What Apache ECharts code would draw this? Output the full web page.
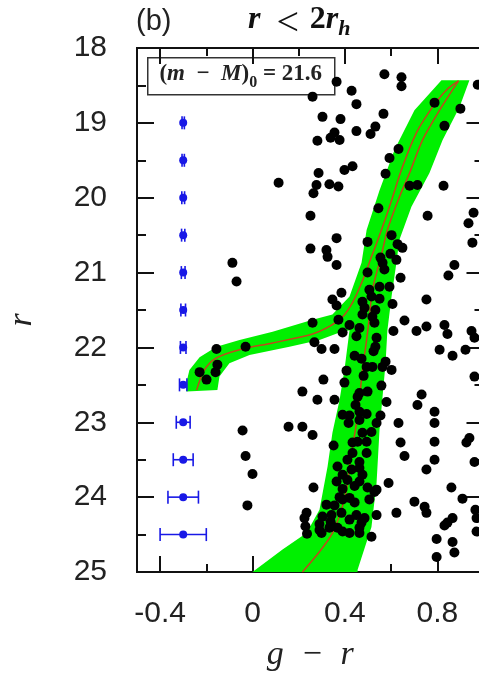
<!DOCTYPE html>
<html>
<head>
<meta charset="utf-8">
<script src="https://cdn.jsdelivr.net/npm/echarts@6/dist/echarts.min.js"></script>
<style>
  html, body { margin: 0; padding: 0; background: #ffffff; }
  #chart { width: 479px; height: 676px; }
</style>
</head>
<body>
<div id="chart"></div>
<script>
// Axis ticks
const xMajorTicks = [-0.4, 0, 0.4, 0.8];
const xMinorTicks = [-0.2, 0.2, 0.6];

// Stars inside r < 2 r_h : [g - r, r]
const stars = [
  [0.364,18.45],[0.429,18.57],[0.260,18.65],[0.450,18.75],[0.571,18.35],[0.645,18.39],[0.645,18.51],
  [0.788,18.73],[0.900,18.81],[0.975,18.49],[0.303,18.92],[0.381,18.95],[0.567,18.88],[0.831,19.04],
  [0.532,19.05],[0.511,19.15],[0.450,19.11],[0.355,19.13],[0.338,19.20],[0.377,19.23],[0.281,19.24],
  [0.632,19.35],[0.593,19.47],[0.433,19.58],[0.398,19.63],[0.286,19.67],[0.576,19.68],[0.113,19.80],
  [0.277,19.83],[0.333,19.82],[0.372,19.85],[0.264,19.94],[0.680,19.84],[0.714,19.83],[0.827,19.84],
  [0.545,20.14],[0.758,20.24],[0.251,20.24],[0.957,20.20],[0.935,20.34],[0.364,20.54],[0.602,20.50],
  [0.498,20.59],[0.251,20.68],[0.320,20.70],[0.325,20.79],[0.364,20.90],[0.628,20.62],[0.649,20.67],
  [0.952,20.60],[0.554,20.80],[0.597,20.75],[0.623,20.83],[0.563,20.87],[0.571,20.96],[0.874,20.90],
  [0.848,21.04],[0.498,21.00],[0.641,21.07],[0.385,21.27],[0.506,21.23],[0.550,21.19],[0.593,21.19],
  [0.346,21.36],[0.364,21.44],[0.476,21.39],[0.515,21.32],[0.550,21.35],[0.606,21.42],[0.753,21.36],
  [0.485,21.47],[0.532,21.50],[0.476,21.56],[0.519,21.59],[0.372,21.63],[0.260,21.67],[0.420,21.70],
  [0.528,21.67],[0.658,21.64],[0.390,21.80],[0.463,21.74],[0.450,21.85],[0.610,21.78],[0.710,21.78],
  [0.753,21.72],[0.831,21.70],[0.844,21.82],[0.948,21.78],[0.961,21.87],[0.268,21.93],[0.537,21.87],
  [0.532,21.99],[0.299,22.02],[0.355,22.02],[0.524,22.05],[0.810,22.03],[0.922,22.03],[0.866,22.11],
  [0.442,22.11],[0.472,22.15],[0.576,22.19],[0.563,22.26],[0.602,22.30],[0.407,22.31],[0.494,22.26],
  [0.519,22.26],[0.481,22.38],[0.307,22.43],[0.398,22.47],[0.558,22.51],[0.961,22.39],[0.216,22.59],
  [0.463,22.61],[0.498,22.59],[0.281,22.70],[0.355,22.70],[0.455,22.66],[0.580,22.73],[0.446,22.77],
  [0.732,22.63],[0.714,22.77],[0.463,22.86],[0.494,22.89],[0.390,22.90],[0.420,22.91],[0.788,22.86],
  [0.416,23.01],[0.463,22.97],[0.554,22.91],[0.537,23.01],[0.632,23.01],[0.788,23.01],[0.216,23.06],
  [-0.087,20.87],[-0.069,21.12],[-0.030,21.99],[-0.156,22.02],[-0.229,22.33],[-0.199,22.43],
  [-0.160,22.33],[-0.152,22.23],[0.156,23.06],[-0.043,23.11],
  [0.260,23.17],[0.515,23.13],[0.476,23.14],[0.455,23.26],[0.494,23.26],[0.351,23.31],[0.433,23.27],
  [0.641,23.27],[0.788,23.26],[0.939,23.21],[0.926,23.27],[0.961,23.53],[0.658,23.45],[0.494,23.41],
  [0.433,23.41],[0.411,23.50],[0.463,23.53],[0.788,23.50],[0.368,23.59],[0.429,23.63],[0.463,23.61],
  [0.753,23.63],[0.476,23.70],[0.390,23.70],[0.411,23.77],[0.463,23.79],[0.364,23.79],[0.264,23.87],
  [0.390,23.89],[0.442,23.85],[0.498,23.87],[0.537,23.90],[0.589,23.81],[0.861,23.87],[0.909,24.02],
  [0.377,24.00],[0.420,24.01],[0.390,24.03],[0.442,24.07],[0.506,24.03],[0.528,23.93],[0.701,24.06],
  [0.745,24.13],[0.753,24.21],[0.965,24.17],[0.320,24.10],[0.355,24.11],[0.234,24.21],[0.303,24.26],
  [0.342,24.24],[0.385,24.21],[0.450,24.24],[0.485,24.28],[0.537,24.24],[0.623,24.21],[0.225,24.28],
  [0.229,24.39],[0.290,24.36],[0.338,24.33],[0.368,24.41],[0.472,24.34],[0.866,24.28],[0.844,24.34],
  [0.831,24.38],[0.970,24.28],[0.236,24.49],[0.299,24.48],[0.333,24.41],[0.420,24.48],[0.463,24.48],
  [0.515,24.53],[0.797,24.56],[0.866,24.60],[0.874,24.74],[0.797,24.80],[0.970,24.46],
  [-0.030,23.45],[0.000,23.69],[-0.022,24.11],
  [0.346,24.39],[0.390,24.46],[0.463,24.41],[0.290,24.44],[0.420,24.30]
];

// Photometric errors per magnitude bin
const errMag = [19, 19.5, 20, 20.5, 21, 21.5, 22, 22.5, 23, 23.5, 24, 24.5];
const errColour = -0.3;
const errHalfWidth = [0.005, 0.005, 0.006, 0.007, 0.008, 0.010, 0.012, 0.016, 0.030, 0.043, 0.066, 0.100];

// Isochrone: red giant branch
const isoRgb = [
  [0.216,25.00],[0.290,24.73],[0.346,24.48],[0.385,24.17],[0.407,23.90],[0.420,23.59],[0.433,23.33],
  [0.450,23.01],[0.463,22.70],[0.476,22.30],[0.494,21.90],[0.506,21.59],[0.519,21.23],[0.541,20.96],
  [0.563,20.70],[0.584,20.43],[0.636,19.99],[0.680,19.67],[0.736,19.23],[0.810,18.83],[0.892,18.44]
];
// Isochrone: asymptotic giant branch and horizontal branch
const isoAgbHb = [
  [0.892,18.44],[0.840,18.56],[0.779,18.79],[0.710,19.13],[0.649,19.59],[0.593,20.12],[0.550,20.50],
  [0.515,20.79],[0.472,21.14],[0.433,21.40],[0.390,21.59],[0.333,21.72],[0.260,21.82],[0.087,21.94],
  [-0.056,22.03],[-0.156,22.14],[-0.208,22.30],[-0.242,22.57]
];
// Outline of the isochrone spread by photometric errors
const bandOutline = [
  [0.000,25.00],[0.130,24.70],[0.234,24.48],[0.290,24.17],[0.325,23.59],[0.346,23.14],[0.377,22.70],
  [0.398,22.30],[0.420,21.77],[0.377,21.80],[0.290,21.90],[0.160,21.99],[-0.013,22.10],[-0.100,22.21],
  [-0.143,22.39],[-0.152,22.57],[-0.286,22.59],[-0.286,22.47],[-0.273,22.30],[-0.229,22.13],
  [-0.156,21.99],[-0.056,21.90],[0.087,21.79],[0.260,21.63],[0.346,21.56],[0.420,21.32],[0.472,20.87],
  [0.494,20.43],[0.550,19.90],[0.615,19.36],[0.701,18.83],[0.818,18.43],[0.939,18.43],[0.896,18.79],
  [0.823,19.23],[0.766,19.67],[0.688,20.12],[0.636,20.56],[0.623,20.87],[0.602,21.32],[0.584,21.77],
  [0.576,22.21],[0.563,22.66],[0.550,23.10],[0.537,23.81],[0.515,24.40],[0.455,24.97],[0.455,25.00]
];

const AXIS_BLACK = '#111111';
const LABEL_FONT = '"Liberation Sans", Arial, sans-serif';
const MATH_FONT = '"Liberation Serif", "DejaVu Serif", serif';
const BLUE = '#1818e6';

const chart = echarts.init(document.getElementById('chart'), null, { renderer: 'canvas' });

function xAxisDef(position, ticks, len, withLabels) {
  return {
    type: 'value', min: -0.5, max: 1.0, position: position, gridIndex: 0,
    axisLine: { show: true, onZero: false, lineStyle: { color: AXIS_BLACK, width: 2 } },
    axisTick: { show: true, inside: true, length: len, customValues: ticks,
                lineStyle: { color: AXIS_BLACK, width: 2 } },
    axisLabel: withLabels ? {
      show: true, customValues: ticks, margin: 27, fontSize: 30,
      fontFamily: LABEL_FONT, color: '#222'
    } : { show: false },
    splitLine: { show: false },
    name: withLabels ? 'g\u2002\u2212\u2002r' : '',
    nameLocation: 'middle', nameGap: 66,
    nameTextStyle: { fontFamily: MATH_FONT, fontStyle: 'italic', fontSize: 34, color: '#222' }
  };
}

function yAxisDef(position, withLabels) {
  return {
    type: 'value', min: 18, max: 25, interval: 1, inverse: true, position: position, gridIndex: 0,
    axisLine: { show: true, onZero: false, lineStyle: { color: AXIS_BLACK, width: 2 } },
    axisTick: { show: true, inside: true, length: 17, lineStyle: { color: AXIS_BLACK, width: 2 } },
    minorTick: { show: true, splitNumber: 2, length: 9, lineStyle: { color: AXIS_BLACK, width: 2 } },
    axisLabel: withLabels ? {
      show: true, margin: 30, fontSize: 30, fontFamily: LABEL_FONT, color: '#222'
    } : { show: false },
    splitLine: { show: false },
    minorSplitLine: { show: false },
    name: withLabels ? 'r' : '',
    nameLocation: 'middle', nameGap: 98, nameRotate: 90,
    nameTextStyle: { fontFamily: MATH_FONT, fontStyle: 'italic', fontSize: 34, color: '#222',
                     padding: [0, 20, 0, 0] }
  };
}

const option = {
  backgroundColor: '#ffffff',
  animation: false,
  title: [
    { text: '(b)', left: 136, top: 7, padding: 0,
      textStyle: { fontFamily: LABEL_FONT, fontSize: 29, fontWeight: 'normal', color: '#222' } },
    { text: '{i|r}{o|\u2002}{lt|<}{o|\u20042}{i|r}{s|h}', left: 248, top: 4, padding: 0,
      textStyle: {
        rich: {
          i: { fontFamily: MATH_FONT, fontStyle: 'italic', fontWeight: 'bold', fontSize: 32,
               color: '#111', lineHeight: 36, verticalAlign: 'top' },
          o: { fontFamily: MATH_FONT, fontWeight: 'bold', fontSize: 32, color: '#111',
               lineHeight: 36, verticalAlign: 'top' },
          lt: { fontFamily: MATH_FONT, fontWeight: 'normal', fontSize: 40, color: '#111',
               lineHeight: 36, verticalAlign: 'top' },
          s: { fontFamily: MATH_FONT, fontStyle: 'italic', fontWeight: 'bold', fontSize: 22,
               color: '#111', lineHeight: 22, verticalAlign: 'bottom' }
        }
      } }
  ],
  grid: { left: 137, top: 48, width: 346.5, height: 524, containLabel: false, outerBoundsMode: 'none' },
  xAxis: [
    xAxisDef('bottom', xMajorTicks, 16, true),
    xAxisDef('bottom', xMinorTicks, 8, false),
    xAxisDef('top', xMajorTicks, 16, false),
    xAxisDef('top', xMinorTicks, 8, false)
  ],
  yAxis: [
    yAxisDef('left', true),
    yAxisDef('right', false)
  ],
  graphic: [
    {
      type: 'group', left: 147, top: 57, z: 100,
      children: [
        { type: 'rect', shape: { x: 0, y: 0, width: 187, height: 37 },
          style: { fill: '#ffffff', stroke: '#333333', lineWidth: 1.5 } },
        { type: 'text', x: 93, y: 19,
          style: {
            text: '{p|(}{i|m}{p|\u2002\u2212\u2002}{i|M}{p|)}{b|0}{p| = 21.6}',
            align: 'center', verticalAlign: 'middle',
            rich: {
              p: { fontFamily: MATH_FONT, fontWeight: 'bold', fontSize: 23, fill: '#222',
                   lineHeight: 28, verticalAlign: 'top' },
              i: { fontFamily: MATH_FONT, fontStyle: 'italic', fontWeight: 'bold', fontSize: 23,
                   fill: '#222', lineHeight: 28, verticalAlign: 'top' },
              b: { fontFamily: MATH_FONT, fontWeight: 'bold', fontSize: 16, fill: '#222',
                   lineHeight: 16, verticalAlign: 'bottom' }
            }
          } }
      ]
    }
  ],
  series: [
    {
      name: 'band', type: 'custom', xAxisIndex: 0, yAxisIndex: 0, z: 1, silent: true,
      data: bandOutline,
      renderItem: function (params, api) {
        if (params.dataIndex !== 0) return null;
        const pts = bandOutline.map(function (p) { return api.coord(p); });
        return { type: 'polygon', shape: { points: pts }, style: { fill: '#00f000' } };
      }
    },
    {
      name: 'rgb', type: 'line', data: isoRgb, z: 2, showSymbol: false, smooth: 0.3,
      lineStyle: { color: '#c2461c', width: 1.5 }
    },
    {
      name: 'agbhb', type: 'line', data: isoAgbHb, z: 2, showSymbol: false, smooth: 0.3,
      lineStyle: { color: '#c2461c', width: 1.5 }
    },
    {
      name: 'stars', type: 'scatter', data: stars, z: 3, symbol: 'circle', symbolSize: 10,
      itemStyle: { color: '#000000', opacity: 1 }
    },
    {
      name: 'errbars', type: 'custom', z: 4,
      data: errMag.map(function (m, i) { return [errColour, m, errHalfWidth[i]]; }),
      renderItem: function (params, api) {
        const x = api.value(0), y = api.value(1), e = api.value(2);
        const lo = api.coord([x - e, y]);
        const hi = api.coord([x + e, y]);
        const cap = 6.5;
        const st = { stroke: BLUE, lineWidth: 1.6 };
        return {
          type: 'group',
          children: [
            { type: 'line', shape: { x1: lo[0], y1: lo[1], x2: hi[0], y2: hi[1] }, style: st },
            { type: 'line', shape: { x1: lo[0], y1: lo[1] - cap, x2: lo[0], y2: lo[1] + cap }, style: st },
            { type: 'line', shape: { x1: hi[0], y1: hi[1] - cap, x2: hi[0], y2: hi[1] + cap }, style: st }
          ]
        };
      }
    },
    {
      name: 'errpts', type: 'scatter', z: 5, symbol: 'circle', symbolSize: 8,
      data: errMag.map(function (m) { return [errColour, m]; }),
      itemStyle: { color: BLUE, opacity: 1 }
    }
  ]
};

chart.setOption(option);
</script>
</body>
</html>
